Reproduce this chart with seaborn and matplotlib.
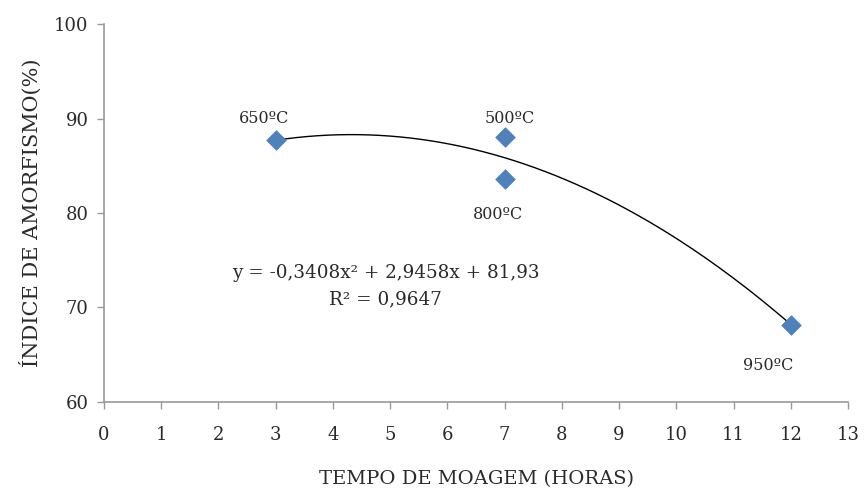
import numpy as np
import pandas as pd
import matplotlib
matplotlib.use("Agg")
import matplotlib.pyplot as plt
import seaborn as sns

# Milling time (hours) vs. amorphism index (%)
tempo = [3, 7, 7, 12]
indice = [87.7, 88.0, 83.6, 68.2]
temperaturas = ["650ºC", "500ºC", "800ºC", "950ºC"]

# Quadratic trendline coefficients
coef = [-0.3408, 2.9458, 81.93]
r2 = 0.9647

x_ticks = list(range(0, 14))
y_ticks = [60, 70, 80, 90, 100]

sns.set_theme(style="white")
plt.rcParams["font.family"] = ["DejaVu Serif"]

TXT = "#2a2a2a"

fig = plt.figure(figsize=(8.64, 4.93), dpi=100)
ax = fig.add_axes([0.1204, 0.1846, 0.8611, 0.7667])

df = pd.DataFrame({"tempo": tempo, "indice": indice})

# trendline over the observed range
xs = np.linspace(min(tempo), max(tempo), 200)
ys = np.polyval(coef, xs)
sns.lineplot(x=xs, y=ys, ax=ax, color="black", linewidth=1.0, zorder=2)

sns.scatterplot(data=df, x="tempo", y="indice", ax=ax, marker="D", s=100,
                color="#4F81BD", edgecolor="#4F81BD", linewidth=0.5, zorder=3)

# point labels
label_pos = [(2.80, 90.05), (7.09, 90.05), (6.88, 79.8), (11.6, 63.9)]
for (lx, ly), lab in zip(label_pos, temperaturas):
    ax.text(lx, ly, lab, ha="center", va="center", fontsize=11.5, color=TXT)

ax.text(4.92, 73.6, f"y = -0,3408x² + 2,9458x + 81,93", ha="center",
        va="center", fontsize=13.2, color=TXT)
ax.text(4.92, 70.9, f"R² = {str(r2).replace('.', ',')}", ha="center",
        va="center", fontsize=13.2, color=TXT)

ax.set_xlim(0, 13)
ax.set_ylim(60, 100)
ax.set_xticks(x_ticks)
ax.set_yticks(y_ticks)
ax.tick_params(axis="both", which="both", direction="out", length=5,
               width=1, color="#999999", labelsize=13, labelcolor=TXT,
               bottom=True, left=True, pad=6)
ax.tick_params(axis="x", pad=12)

for side in ["top", "right"]:
    ax.spines[side].set_visible(False)
for side in ["left", "bottom"]:
    ax.spines[side].set_color("#999999")
    ax.spines[side].set_linewidth(1.2)

ax.set_xlabel("TEMPO DE MOAGEM (HORAS)", fontsize=14, color=TXT,
              labelpad=19)
ax.set_ylabel("ÍNDICE DE AMORFISMO(%)", fontsize=15, color=TXT,
              labelpad=9)

fig.savefig("out.png", dpi=100, facecolor="white")
